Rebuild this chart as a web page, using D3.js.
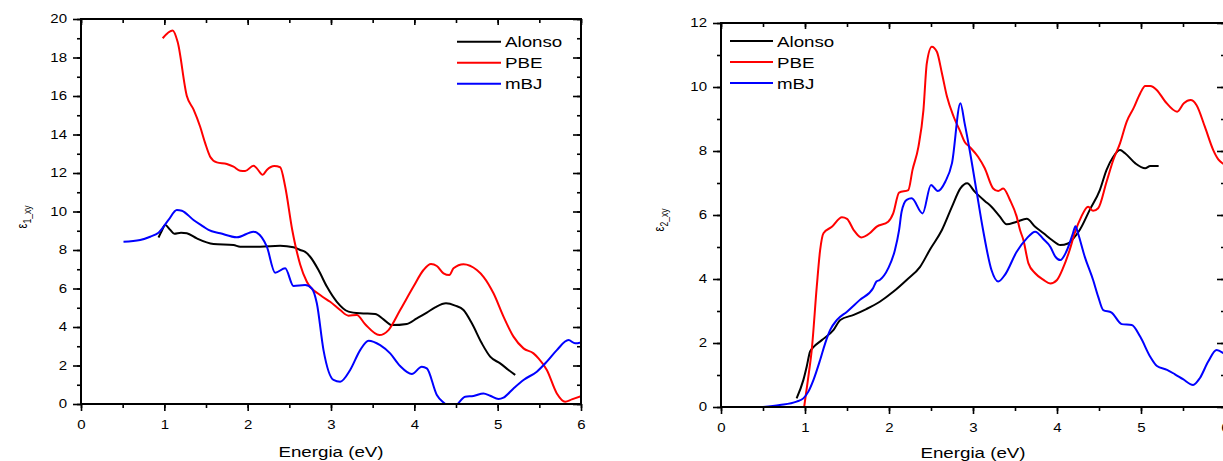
<!DOCTYPE html>
<html>
<head>
<meta charset="utf-8">
<script src="https://cdn.jsdelivr.net/npm/d3@7"></script>
<style>
  body { margin: 0; background: #fff; }
  text { font-family: "Liberation Sans", Arial, sans-serif; fill: #000; }
</style>
</head>
<body>
<svg id="chart" width="1223" height="461"></svg>
<script>
// values: [energy (eV), epsilon]
const eps1Alonso = [[0.93,8.65],[0.97,9.0],[1.01,9.3],[1.07,9.05],[1.12,8.85],[1.2,8.9],[1.27,8.87],[1.39,8.6],[1.59,8.31],[1.83,8.26],[1.91,8.17],[2.15,8.17],[2.39,8.22],[2.55,8.14],[2.63,8.0],[2.69,7.9],[2.75,7.65],[2.85,6.96],[2.95,6.1],[3.07,5.31],[3.21,4.8],[3.35,4.71],[3.53,4.68],[3.63,4.4],[3.73,4.1],[3.91,4.16],[4.03,4.45],[4.15,4.75],[4.25,5.02],[4.38,5.23],[4.49,5.11],[4.59,4.88],[4.69,4.19],[4.81,3.15],[4.91,2.46],[5.03,2.11],[5.13,1.77],[5.21,1.51]]
const eps1PBE = [[0.98,19.0],[1.10,19.4],[1.16,18.8],[1.27,16.0],[1.35,15.3],[1.43,14.4],[1.49,13.55],[1.55,12.85],[1.63,12.55],[1.75,12.47],[1.83,12.33],[1.91,12.12],[1.97,12.1],[2.07,12.38],[2.11,12.24],[2.18,11.91],[2.23,12.16],[2.32,12.36],[2.39,12.3],[2.45,11.3],[2.535,9.04],[2.63,7.25],[2.71,6.35],[2.87,5.66],[2.99,5.31],[3.11,4.88],[3.21,4.59],[3.31,4.62],[3.41,4.14],[3.58,3.58],[3.69,3.84],[3.83,4.88],[3.99,6.1],[4.11,6.96],[4.20,7.27],[4.27,7.17],[4.35,6.79],[4.42,6.7],[4.47,7.05],[4.59,7.26],[4.75,6.96],[4.83,6.61],[4.95,5.75],[5.07,4.54],[5.19,3.5],[5.31,2.89],[5.43,2.63],[5.49,2.37],[5.59,1.77],[5.71,0.55],[5.81,0.12],[5.89,0.24],[6.0,0.41]]
const eps1mBJ = [[0.51,8.43],[0.71,8.52],[0.83,8.69],[0.93,8.9],[1.05,9.56],[1.15,10.08],[1.21,10.04],[1.35,9.56],[1.47,9.21],[1.53,9.04],[1.67,8.87],[1.87,8.66],[2.07,8.95],[2.11,8.9],[2.23,8.17],[2.33,6.82],[2.45,7.05],[2.55,6.13],[2.69,6.18],[2.77,6.0],[2.83,5.23],[2.91,2.8],[3.03,1.25],[3.11,1.16],[3.23,1.77],[3.35,2.8],[3.45,3.29],[3.59,3.06],[3.71,2.63],[3.83,1.97],[3.97,1.56],[4.09,1.94],[4.15,1.85],[4.27,0.47],[4.37,0.0],[4.44,-0.3],[4.51,-0.05],[4.61,0.38],[4.71,0.42],[4.83,0.55],[4.91,0.43],[5.01,0.26],[5.07,0.33],[5.19,0.81],[5.31,1.25],[5.47,1.68],[5.59,2.2],[5.71,2.8],[5.85,3.32],[5.93,3.15],[6.0,3.2]]

const eps2Alonso = [[0.90,0.27],[0.98,0.84],[1.02,1.26],[1.06,1.73],[1.10,1.87],[1.20,2.09],[1.34,2.41],[1.42,2.72],[1.58,2.88],[1.73,3.06],[1.89,3.29],[2.05,3.6],[2.21,3.97],[2.37,4.38],[2.49,4.93],[2.63,5.53],[2.75,6.26],[2.85,6.83],[2.93,6.99],[3.02,6.73],[3.14,6.44],[3.22,6.26],[3.32,5.95],[3.40,5.71],[3.52,5.79],[3.64,5.88],[3.74,5.63],[3.84,5.43],[3.94,5.22],[4.04,5.06],[4.13,5.11],[4.23,5.38],[4.27,5.53],[4.39,6.16],[4.51,6.78],[4.59,7.41],[4.67,7.82],[4.75,8.03],[4.81,7.93],[4.93,7.62],[5.05,7.46],[5.11,7.53],[5.21,7.53]]
const eps2PBE = [[0.99,0],[1.04,0.95],[1.08,1.78],[1.14,3.76],[1.18,4.9],[1.22,5.43],[1.32,5.63],[1.44,5.93],[1.50,5.88],[1.58,5.53],[1.67,5.3],[1.77,5.43],[1.85,5.63],[1.99,5.79],[2.05,6.05],[2.12,6.7],[2.23,6.78],[2.28,7.41],[2.35,8.13],[2.41,9.28],[2.45,10.74],[2.51,11.26],[2.57,11.1],[2.63,10.43],[2.69,9.7],[2.77,9.07],[2.85,8.6],[2.90,8.29],[2.96,8.13],[3.06,7.82],[3.14,7.46],[3.24,6.83],[3.30,6.75],[3.36,6.83],[3.44,6.47],[3.52,5.95],[3.56,5.53],[3.60,5.22],[3.66,4.49],[3.74,4.18],[3.84,3.97],[3.92,3.86],[4.0,3.97],[4.07,4.33],[4.15,4.9],[4.21,5.43],[4.29,5.95],[4.37,6.26],[4.43,6.13],[4.49,6.21],[4.59,7.04],[4.67,7.72],[4.75,8.24],[4.83,8.92],[4.91,9.33],[4.99,9.8],[5.05,10.03],[5.11,10.03],[5.19,9.9],[5.29,9.54],[5.43,9.23],[5.51,9.49],[5.59,9.59],[5.66,9.44],[5.76,8.76],[5.86,8.03],[5.92,7.74],[5.98,7.6]]
const eps2mBJ = [[0.50,0],[0.70,0.06],[0.90,0.17],[0.98,0.27],[1.04,0.48],[1.10,0.84],[1.18,1.47],[1.24,1.99],[1.30,2.41],[1.38,2.72],[1.50,2.98],[1.65,3.34],[1.81,3.71],[1.85,3.92],[1.89,3.97],[1.99,4.33],[2.07,4.9],[2.12,5.53],[2.15,6.1],[2.21,6.47],[2.27,6.52],[2.40,6.05],[2.50,6.94],[2.58,6.75],[2.67,7.04],[2.75,7.62],[2.85,9.49],[2.90,8.87],[2.96,8.03],[3.04,6.78],[3.12,5.53],[3.22,4.28],[3.30,3.92],[3.38,4.13],[3.52,4.85],[3.64,5.27],[3.74,5.48],[3.84,5.24],[3.92,5.01],[3.98,4.7],[4.04,4.59],[4.11,4.85],[4.19,5.43],[4.22,5.65],[4.25,5.43],[4.33,4.7],[4.43,3.97],[4.49,3.45],[4.55,3.03],[4.65,2.95],[4.77,2.59],[4.89,2.56],[4.99,2.2],[5.11,1.57],[5.19,1.28],[5.31,1.16],[5.40,1.03],[5.50,0.87],[5.62,0.69],[5.70,0.9],[5.80,1.42],[5.90,1.78],[5.98,1.68]]

const seriesNames = ['Alonso', 'PBE', 'mBJ']
const seriesColors = ['#000000', '#ff0000', '#0000ff']
const xMajor = [0, 1, 2, 3, 4, 5, 6]
const xMinor = [0, 0.5, 1, 1.5, 2, 2.5, 3, 3.5, 4, 4.5, 5, 5.5, 6]
const xTitle = 'Energia (eV)'

const SX = 1.25 // the scanned figure is stretched sideways, so is its text
const svg = d3.select('#chart')

// move x/y of a text into a transform so the glyphs can be widened in place
const stretch = (sel) =>
  sel.each(function () {
    const t = d3.select(this)
    const x = +t.attr('x') || 0
    const y = +t.attr('y') || 0
    t.attr('x', 0).attr('y', 0).attr('transform', `translate(${x},${y}) scale(${SX},1)`)
  })

const drawPanel = (p) => {
  const x = d3.scaleLinear().domain([0, 6]).range([p.left, p.right])
  const y = d3.scaleLinear().domain([0, p.yMax]).range([p.bottom, p.top])
  const yMajor = d3.range(0, p.yMax + 1, 2)
  const yMinor = d3.range(0, p.yMax + 1, 1)
  const g = svg.append('g')

  const addAxis = (axis, tx, ty, labelled) => {
    const a = g.append('g')
      .attr('transform', `translate(${tx},${ty})`)
      .call(axis)
    a.select('.domain').remove()
    a.selectAll('line').attr('stroke', '#000').attr('stroke-width', 1.6)
    if (labelled) {
      a.selectAll('text').attr('font-size', 12).attr('fill', '#000').call(stretch)
    }
    return a
  }

  // bottom and left: outward ticks with labels
  addAxis(d3.axisBottom(x).tickValues(xMinor).tickSize(4).tickFormat(''), 0, p.bottom)
  addAxis(d3.axisBottom(x).tickValues(xMajor).tickSize(7).tickPadding(9).tickFormat(d3.format('d')), 0, p.bottom, true)
  addAxis(d3.axisLeft(y).tickValues(yMinor).tickSize(4).tickFormat(''), p.left, 0)
  addAxis(d3.axisLeft(y).tickValues(yMajor).tickSize(8).tickPadding(6).tickFormat(d3.format('d')), p.left, 0, true)
  // top and right: inward ticks only
  addAxis(d3.axisTop(x).tickValues(xMinor).tickSize(-4).tickFormat(''), 0, p.top)
  addAxis(d3.axisTop(x).tickValues(xMajor).tickSize(-6).tickFormat(''), 0, p.top)
  addAxis(d3.axisRight(y).tickValues(yMinor).tickSize(-4).tickFormat(''), p.right, 0)
  addAxis(d3.axisRight(y).tickValues(yMajor).tickSize(-8).tickFormat(''), p.right, 0)

  const clipId = 'clip' + p.id
  svg.append('clipPath').attr('id', clipId)
    .append('rect')
    .attr('x', p.left).attr('y', p.top)
    .attr('width', p.right - p.left).attr('height', p.bottom - p.top)

  const line = d3.line()
    .x((d) => x(d[0]))
    .y((d) => y(d[1]))
    .curve(d3.curveMonotoneX)

  g.append('g').attr('clip-path', `url(#${clipId})`)
    .selectAll('path.curve')
    .data(p.series)
    .join('path')
    .attr('class', 'curve')
    .attr('d', line)
    .attr('fill', 'none')
    .attr('stroke', (d, i) => seriesColors[i])
    .attr('stroke-width', 2)
    .attr('stroke-linejoin', 'round')

  // frame
  g.append('rect')
    .attr('x', p.left).attr('y', p.top)
    .attr('width', p.right - p.left).attr('height', p.bottom - p.top)
    .attr('fill', 'none').attr('stroke', '#000').attr('stroke-width', 2)

  // legend
  const leg = g.append('g')
  seriesNames.forEach((name, i) => {
    const ly = p.legY + i * 21
    leg.append('line')
      .attr('x1', p.legX1).attr('x2', p.legX2)
      .attr('y1', ly).attr('y2', ly)
      .attr('stroke', seriesColors[i]).attr('stroke-width', 2)
    leg.append('text')
      .attr('x', p.legX2 + 4).attr('y', ly + 5.5)
      .attr('font-size', 15)
      .text(name)
      .call(stretch)
  })

  // x title
  g.append('text')
    .attr('x', (p.left + p.right) / 2).attr('y', p.titleY)
    .attr('text-anchor', 'middle')
    .attr('font-size', 15)
    .text(xTitle)
    .call(stretch)

  // y title
  const yt = g.append('text')
    .attr('transform', `translate(${p.labX},${p.labY}) scale(${SX},1) rotate(-90)`)
    .attr('text-anchor', 'middle')
  yt.append('tspan').attr('font-size', 11).text('ε')
  yt.append('tspan').attr('font-size', 8.5).attr('dy', 3).text(p.sub)
}

drawPanel({
  id: 1, left: 81, right: 581, top: 19, bottom: 404, yMax: 20,
  series: [eps1Alonso, eps1PBE, eps1mBJ],
  legX1: 457, legX2: 501, legY: 41.7,
  titleY: 456.7, labX: 27, labY: 217, sub: '1_xy'
})

drawPanel({
  id: 2, left: 721, right: 1225, top: 23, bottom: 407, yMax: 12,
  series: [eps2Alonso, eps2PBE, eps2mBJ],
  legX1: 730, legX2: 773, legY: 41,
  titleY: 458, labX: 664, labY: 220, sub: '2_xy'
})
</script>
</body>
</html>
